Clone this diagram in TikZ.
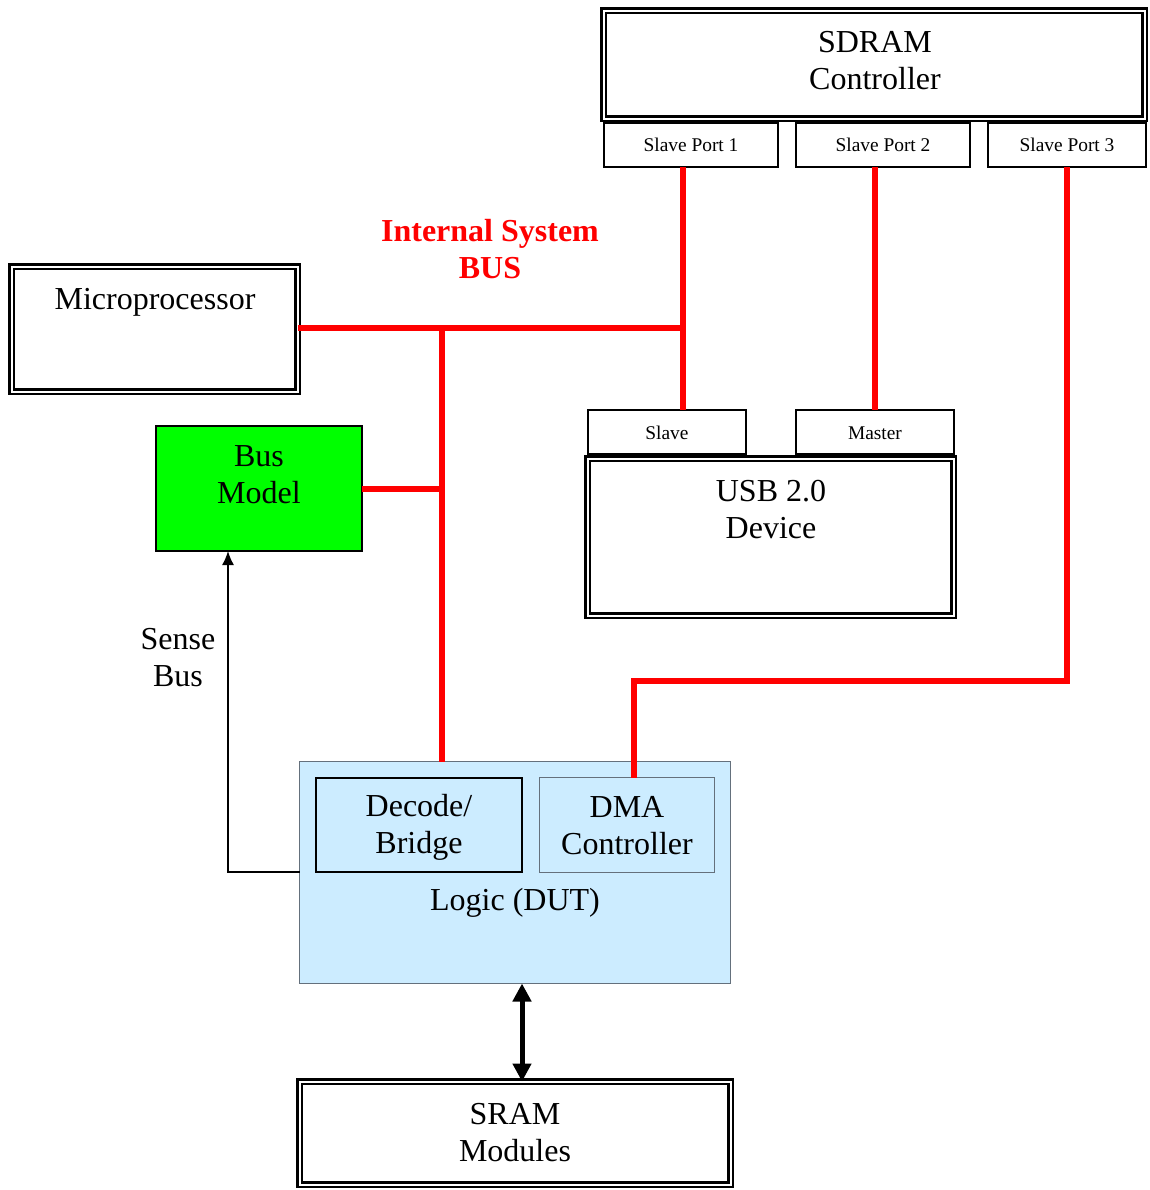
\documentclass[tikz,border=0pt]{standalone}
\usepackage{fontspec}
\setmainfont{Liberation Serif}
\usetikzlibrary{fit,arrows.meta}
\definecolor{busred}{RGB}{255,0,0}
\definecolor{modelgreen}{RGB}{0,255,0}
\definecolor{dutblue}{RGB}{204,236,255}
\definecolor{dutedge}{RGB}{100,112,124}
\begin{document}
\begin{tikzpicture}[x=0.5pt,y=-0.5pt,
  box/.style={draw=black, line width=1pt, inner sep=0pt, outer sep=0pt},
  dbox/.style={draw=black, line width=1.3pt, double=white, double distance=1pt, inner sep=0pt, outer sep=0pt},
  greybox/.style={draw=dutedge, line width=0.9pt, inner sep=0pt, outer sep=0pt},
  bigtxt/.style={font=\fontsize{16}{18.5}\selectfont, align=center, inner sep=0pt},
  bustxt/.style={font=\fontsize{16}{18.5}\selectfont\bfseries, text=busred, align=center, inner sep=0pt},
  smalltxt/.style={font=\fontsize{9.7}{11}\selectfont, inner sep=0pt},
  bus/.style={draw=busred, line width=3pt},
  sense/.style={draw=black, line width=0.75pt, -{Latex[length=7pt,width=6pt]}},
  memlink/.style={draw=black, line width=2.5pt, {Triangle[length=9pt,width=9pt]}-{Triangle[length=9pt,width=9pt]}},
]
\useasboundingbox (0,0) rectangle (1150,1190);

% ---- blocks ----
\node[dbox, fit={(603.5,10.5) (1144.5,118.5)}] (sdram) {};
\node[box, fit={(604,123) (778,167)}] (sp1) {};
\node[box, fit={(796,123) (970,167)}] (sp2) {};
\node[box, fit={(988,123) (1146,167)}] (sp3) {};

\node[dbox, fit={(11.5,266.5) (297.5,391.5)}] (cpu) {};
\node[box, fill=modelgreen, fit={(156,426) (362,551)}] (busmodel) {};

\node[box, fit={(588,410) (746,454)}] (uslave) {};
\node[box, fit={(796,410) (954,454)}] (umaster) {};
\node[dbox, fit={(587.5,458.5) (953.5,615.5)}] (usb) {};

\node[greybox, fill=dutblue, fit={(299.5,761.5) (730.5,983.5)}] (logic) {};
\node[box, fit={(316,778) (522,872)}] (decode) {};
\node[greybox, fit={(539.5,777.5) (714.5,872.5)}] (dma) {};

\node[dbox, fit={(299.5,1081.5) (730.5,1184.5)}] (sram) {};

% ---- labels ----
\node[bigtxt] (t-sdram) at (875,61) {SDRAM\\Controller};
\node[smalltxt] (t-sp1) at (sp1.center) {Slave Port 1};
\node[smalltxt] (t-sp2) at (sp2.center) {Slave Port 2};
\node[smalltxt] (t-sp3) at (sp3.center) {Slave Port 3};
\node[bustxt] (t-bus) at (490,249) {Internal System\\BUS};
\node[bigtxt] (t-cpu) at (155,302) {Microprocessor};
\node[bigtxt] (t-model) at (259,475) {Bus\\Model};
\node[smalltxt] (t-slave) at ([yshift=-0.5pt]uslave.center) {Slave};
\node[smalltxt] (t-master) at ([yshift=-0.5pt]umaster.center) {Master};
\node[bigtxt] (t-usb) at (771,510) {USB 2.0\\Device};
\node[bigtxt] (t-sense) at (178,658) {Sense\\Bus};
\node[bigtxt] (t-decode) at (419,827) {Decode/\\Bridge};
\node[bigtxt] (t-dma) at (627,826) {DMA\\Controller};
\node[bigtxt] (t-logic) at (515,903) {Logic (DUT)};
\node[bigtxt] (t-sram) at (515,1133) {SRAM\\Modules};

% ---- internal system bus ----
\coordinate (j1) at (683,328);
\coordinate (j2) at (442,328);
\coordinate (bend) at (1067,681);
\coordinate (dmadrop) at (634,681);
\draw[bus] (sp1.south -| j1) -- (uslave.north -| j1);
\draw[bus] (cpu.east |- j1) -- (j1);
\draw[bus] ([yshift=1.5pt]j2) -- (logic.north -| j2);
\draw[bus] (busmodel.east) -- (busmodel.east -| j2);
\draw[bus] (sp2.south -| umaster.north) -- (umaster.north);
\draw[bus] (sp3.south) -- (bend) -- (dmadrop) -- (dma.north -| dmadrop);

% ---- sense bus and memory link ----
\coordinate (sensecol) at (228,600);
\draw[sense] (logic.west |- decode.south) -| (sensecol |- busmodel.south);
\coordinate (memcol) at (522,1030);
\draw[memlink] (memcol |- logic.south) -- (memcol |- sram.north);
\end{tikzpicture}
\end{document}
